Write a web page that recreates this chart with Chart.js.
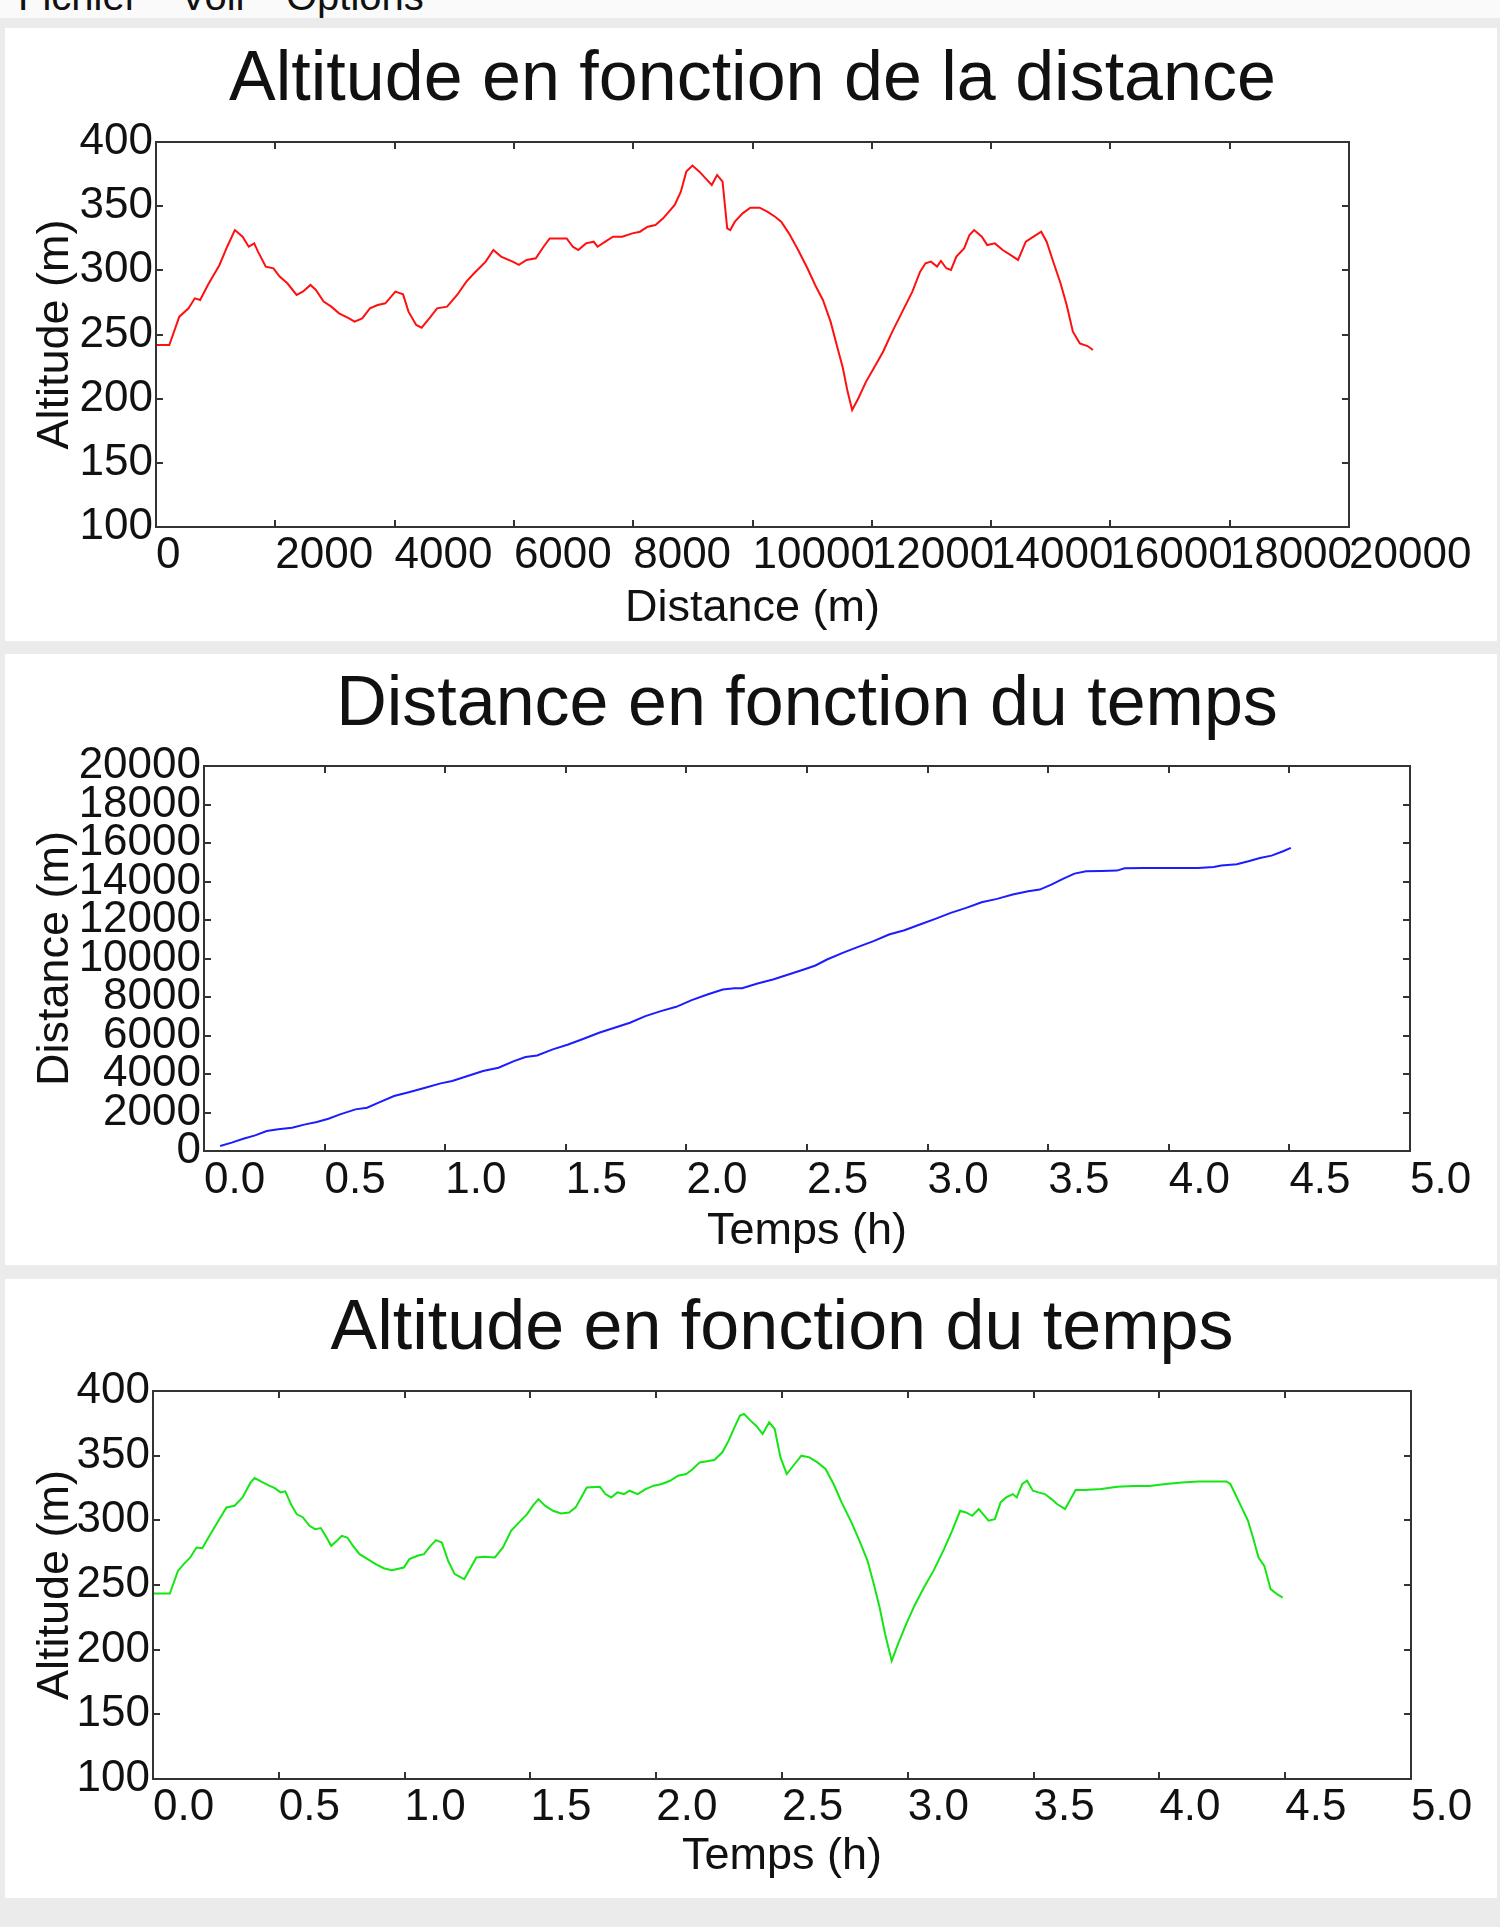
<!DOCTYPE html>
<html>
<head>
<meta charset="utf-8">
<script src="https://cdn.jsdelivr.net/npm/chart.js@4.4.1/dist/chart.umd.min.js"></script>
<style>
  html, body { margin: 0; padding: 0; }
  body {
    width: 1500px; height: 1927px; position: relative; overflow: hidden;
    background: #ebebeb; font-family: "Liberation Sans", Arial, sans-serif;
  }
  .menubar { position: absolute; left: 0; top: 0; width: 1500px; height: 18px; background: #fafafa; overflow: hidden; }
  .menubar span { position: absolute; top: -24px; font-size: 40px; line-height: 40px; color: #111; }
  .panel { position: absolute; left: 5px; width: 1492px; background: #fff; }
  .panel canvas { display: block; }
</style>
</head>
<body>
<div class="menubar">
  <span style="left:18px">Fichier</span>
  <span style="left:180px">Voir</span>
  <span style="left:286px">Options</span>
</div>
<div class="panel" style="top:28px;height:613px"><canvas id="chart1" width="1492" height="613"></canvas></div>
<div class="panel" style="top:654px;height:611px"><canvas id="chart2" width="1492" height="611"></canvas></div>
<div class="panel" style="top:1279px;height:619px"><canvas id="chart3" width="1492" height="619"></canvas></div>

<script>
// altitude vs distance (red)
const profileDistance = [0, 223, 391, 546, 650, 740, 870, 1064, 1193, 1322, 1452, 1555, 1646, 1710, 1840, 1969, 2073, 2202, 2357, 2461, 2590, 2681, 2810, 2939, 3069, 3237, 3328, 3457, 3586, 3716, 3845, 4013, 4142, 4233, 4362, 4453, 4582, 4712, 4880, 5048, 5203, 5333, 5527, 5656, 5785, 5979, 6083, 6212, 6367, 6497, 6600, 6885, 6988, 7079, 7208, 7338, 7402, 7532, 7661, 7816, 7985, 8114, 8243, 8373, 8502, 8696, 8799, 8890, 8993, 9110, 9213, 9317, 9407, 9498, 9576, 9627, 9705, 9834, 9964, 10119, 10248, 10378, 10481, 10611, 10765, 10921, 11050, 11180, 11309, 11412, 11516, 11594, 11671, 11775, 11904, 12033, 12189, 12344, 12512, 12680, 12810, 12900, 12991, 13094, 13159, 13249, 13327, 13418, 13547, 13637, 13715, 13845, 13935, 14064, 14194, 14323, 14452, 14582, 14711, 14841, 14931, 15060, 15164, 15267, 15371, 15487, 15617, 15708]
const profileAltitude = [241.8, 241.8, 263.9, 270.4, 278.2, 276.9, 288.6, 304.2, 318.4, 331.4, 326.2, 318.4, 321.0, 314.6, 302.9, 301.6, 295.1, 289.9, 280.8, 283.4, 288.6, 284.7, 275.6, 271.7, 266.5, 262.6, 260.0, 262.6, 270.4, 273.0, 274.3, 283.4, 281.3, 267.8, 257.4, 255.3, 262.6, 270.4, 271.7, 280.8, 291.2, 297.7, 306.8, 315.8, 310.7, 306.8, 304.2, 308.1, 309.4, 318.4, 324.9, 324.9, 318.4, 315.8, 321.0, 322.3, 318.4, 322.3, 326.2, 326.2, 328.8, 330.1, 334.0, 335.3, 340.5, 350.9, 361.3, 376.9, 381.6, 376.9, 371.7, 366.5, 374.3, 369.1, 332.7, 331.4, 337.9, 344.4, 348.8, 348.8, 345.7, 341.8, 337.9, 328.8, 315.8, 301.6, 288.6, 276.9, 260.0, 241.8, 223.7, 205.5, 191.2, 200.3, 213.3, 223.7, 236.6, 252.2, 267.8, 283.4, 299.0, 305.5, 306.8, 302.9, 307.3, 301.6, 300.3, 310.7, 317.1, 327.5, 331.4, 326.2, 319.7, 321.0, 315.8, 312.0, 308.1, 322.3, 326.2, 330.1, 322.3, 304.2, 289.9, 273.0, 252.2, 243.1, 241.0, 237.9]

// distance vs time (blue)
const trackHours = [0.067, 0.115, 0.163, 0.212, 0.260, 0.308, 0.365, 0.420, 0.468, 0.516, 0.564, 0.628, 0.676, 0.724, 0.788, 0.853, 0.917, 0.981, 1.029, 1.093, 1.157, 1.221, 1.285, 1.333, 1.381, 1.446, 1.510, 1.574, 1.638, 1.702, 1.766, 1.830, 1.894, 1.958, 2.022, 2.087, 2.151, 2.199, 2.231, 2.295, 2.359, 2.423, 2.487, 2.535, 2.583, 2.648, 2.712, 2.776, 2.840, 2.904, 2.968, 3.032, 3.096, 3.160, 3.224, 3.288, 3.353, 3.417, 3.465, 3.513, 3.561, 3.609, 3.657, 3.721, 3.785, 3.817, 3.897, 4.026, 4.122, 4.186, 4.218, 4.282, 4.330, 4.378, 4.426, 4.474, 4.506]
const trackDistance = [260, 433, 640, 813, 1038, 1125, 1211, 1384, 1505, 1678, 1903, 2163, 2249, 2509, 2855, 3062, 3287, 3512, 3633, 3893, 4152, 4325, 4671, 4879, 4965, 5277, 5536, 5830, 6142, 6401, 6661, 7007, 7266, 7491, 7837, 8131, 8391, 8460, 8460, 8702, 8910, 9169, 9429, 9636, 9948, 10294, 10605, 10899, 11245, 11470, 11764, 12058, 12370, 12629, 12923, 13096, 13321, 13494, 13581, 13840, 14134, 14411, 14532, 14549, 14567, 14688, 14705, 14705, 14705, 14757, 14826, 14895, 15051, 15224, 15345, 15570, 15743]

// altitude vs time (green)
const altHours = [0, 0.067, 0.099, 0.122, 0.148, 0.173, 0.196, 0.228, 0.260, 0.292, 0.324, 0.356, 0.388, 0.404, 0.436, 0.462, 0.484, 0.507, 0.526, 0.548, 0.571, 0.596, 0.622, 0.644, 0.667, 0.686, 0.708, 0.731, 0.750, 0.772, 0.795, 0.821, 0.853, 0.885, 0.917, 0.949, 0.997, 1.019, 1.051, 1.077, 1.103, 1.125, 1.148, 1.173, 1.199, 1.237, 1.263, 1.285, 1.317, 1.359, 1.391, 1.423, 1.455, 1.487, 1.510, 1.532, 1.558, 1.590, 1.622, 1.654, 1.680, 1.702, 1.724, 1.776, 1.798, 1.821, 1.846, 1.872, 1.894, 1.926, 1.958, 1.990, 2.022, 2.055, 2.087, 2.119, 2.141, 2.173, 2.231, 2.263, 2.288, 2.311, 2.333, 2.349, 2.375, 2.397, 2.423, 2.449, 2.471, 2.494, 2.519, 2.545, 2.577, 2.609, 2.641, 2.673, 2.705, 2.737, 2.776, 2.808, 2.840, 2.865, 2.888, 2.910, 2.936, 2.961, 2.993, 3.026, 3.064, 3.102, 3.144, 3.176, 3.208, 3.231, 3.256, 3.282, 3.305, 3.321, 3.346, 3.369, 3.391, 3.417, 3.433, 3.455, 3.474, 3.497, 3.519, 3.545, 3.571, 3.593, 3.625, 3.647, 3.667, 3.705, 3.769, 3.833, 3.897, 3.961, 4.026, 4.090, 4.154, 4.224, 4.266, 4.282, 4.308, 4.330, 4.352, 4.372, 4.394, 4.417, 4.442, 4.468, 4.490]
const altValues = [243.4, 243.4, 260.9, 266.1, 271.3, 279.0, 278.5, 289.3, 299.6, 310.0, 311.3, 317.7, 329.3, 332.7, 329.3, 326.8, 324.9, 321.6, 322.4, 312.6, 304.8, 302.2, 295.8, 293.2, 294.0, 288.0, 280.3, 284.2, 288.0, 286.7, 280.3, 273.8, 270.0, 266.1, 263.0, 261.5, 263.5, 270.0, 272.6, 273.8, 280.3, 284.7, 282.9, 268.7, 258.4, 254.5, 263.5, 271.3, 271.8, 271.3, 279.0, 291.9, 298.4, 304.8, 311.3, 316.4, 311.3, 307.4, 305.3, 306.1, 310.0, 317.7, 325.4, 326.0, 320.3, 317.7, 321.6, 320.3, 322.9, 320.3, 324.2, 326.8, 328.1, 330.6, 334.5, 335.8, 338.9, 344.8, 346.6, 352.6, 361.6, 371.9, 381.0, 382.3, 377.1, 373.2, 366.8, 375.8, 370.6, 348.7, 335.8, 342.2, 350.0, 348.7, 344.8, 339.7, 328.1, 313.9, 298.4, 284.2, 268.7, 250.6, 232.6, 211.9, 191.3, 204.2, 219.6, 233.8, 248.0, 260.9, 277.7, 291.9, 307.4, 306.1, 303.5, 308.7, 303.5, 299.7, 300.9, 313.9, 317.7, 320.3, 317.7, 328.1, 330.6, 322.9, 321.6, 320.3, 316.4, 312.6, 308.7, 316.4, 323.4, 323.4, 324.2, 326.0, 326.5, 326.5, 328.1, 329.3, 330.1, 330.1, 330.1, 328.1, 317.7, 308.7, 299.7, 286.7, 271.3, 264.8, 246.8, 242.9, 240.3]

// axis ticks
const distanceTicks = [0, 2000, 4000, 6000, 8000, 10000, 12000, 14000, 16000, 18000, 20000]
const altitudeTicks = [100, 150, 200, 250, 300, 350, 400]
const hourTicks = [0, 0.5, 1, 1.5, 2, 2.5, 3, 3.5, 4, 4.5, 5]
const hourTickLabels = ['0.0', '0.5', '1.0', '1.5', '2.0', '2.5', '3.0', '3.5', '4.0', '4.5', '5.0']

const FONT = '"Liberation Sans", Arial, sans-serif'
const INK = '#111'

// frame + inward tick marks on all four sides
const framePlugin = {
    id: 'frame',
    afterDatasetsDraw(chart) {
        const { ctx, chartArea: a, scales } = chart
        const len = 7
        ctx.save()
        ctx.strokeStyle = '#333'
        ctx.lineWidth = 2
        ctx.beginPath()
        scales.x.ticks.forEach((t) => {
            const px = Math.round(scales.x.getPixelForValue(t.value))
            ctx.moveTo(px, a.bottom); ctx.lineTo(px, a.bottom - len)
            ctx.moveTo(px, a.top); ctx.lineTo(px, a.top + len)
        })
        scales.y.ticks.forEach((t) => {
            const py = Math.round(scales.y.getPixelForValue(t.value))
            ctx.moveTo(a.left, py); ctx.lineTo(a.left + len, py)
            ctx.moveTo(a.right, py); ctx.lineTo(a.right - len, py)
        })
        ctx.stroke()
        ctx.strokeRect(a.left, a.top, a.right - a.left, a.bottom - a.top)
        ctx.restore()
    }
}

function points(xs, ys) {
    return xs.map((x, i) => ({ x: x, y: ys[i] }))
}

function makeChart(id, opts) {
    return new Chart(document.getElementById(id), {
        type: 'line',
        data: {
            datasets: [{
                data: points(opts.xs, opts.ys),
                borderColor: opts.color,
                borderWidth: 2,
                pointRadius: 0,
                tension: 0,
                fill: false
            }]
        },
        options: {
            responsive: false,
            animation: false,
            devicePixelRatio: 1,
            layout: { padding: { left: 0, right: opts.padRight, top: 0, bottom: 0 } },
            plugins: {
                legend: { display: false },
                tooltip: { enabled: false },
                title: {
                    display: true,
                    text: opts.title,
                    fullSize: false,
                    color: INK,
                    font: { family: FONT, size: 70, weight: 'normal', lineHeight: 1.2 },
                    padding: { top: opts.titleTop, bottom: opts.titleBottom }
                }
            },
            scales: {
                x: {
                    type: 'linear',
                    min: opts.xTicks[0],
                    max: opts.xTicks[opts.xTicks.length - 1],
                    grid: { display: false, drawTicks: false },
                    border: { display: false },
                    afterBuildTicks: (s) => { s.ticks = opts.xTicks.map((v) => ({ value: v })) },
                    afterFit: (s) => { s.height = opts.xHeight; s.paddingLeft = 0; s.paddingRight = 0 },
                    ticks: {
                        align: 'start',
                        autoSkip: false,
                        minRotation: 0,
                        maxRotation: 0,
                        padding: opts.xTickPad,
                        color: INK,
                        font: { family: FONT, size: 44, lineHeight: 1.2 },
                        callback: opts.xLabel
                    },
                    title: {
                        display: true,
                        text: opts.xTitle,
                        color: INK,
                        font: { family: FONT, size: 45, lineHeight: 1.2 },
                        padding: { top: 0, bottom: opts.xTitlePad }
                    }
                },
                y: {
                    type: 'linear',
                    min: opts.yTicks[0],
                    max: opts.yTicks[opts.yTicks.length - 1],
                    grid: { display: false, drawTicks: false },
                    border: { display: false },
                    afterBuildTicks: (s) => { s.ticks = opts.yTicks.map((v) => ({ value: v })) },
                    afterFit: (s) => { s.width = opts.yWidth; s.paddingTop = 0; s.paddingBottom = 0 },
                    ticks: {
                        autoSkip: false,
                        padding: 3,
                        color: INK,
                        font: { family: FONT, size: 44, lineHeight: 1.2 },
                        callback: (v) => String(v)
                    },
                    title: {
                        display: true,
                        text: opts.yTitle,
                        color: INK,
                        font: { family: FONT, size: 45, lineHeight: 1.2 },
                        padding: { top: 24, bottom: 0 }
                    }
                }
            }
        },
        plugins: [framePlugin]
    })
}

makeChart('chart1', {
    title: 'Altitude en fonction de la distance',
    xs: profileDistance, ys: profileAltitude, color: '#ff1010',
    xTicks: distanceTicks, yTicks: altitudeTicks,
    xLabel: (v) => String(v),
    xTitle: 'Distance (m)', yTitle: 'Altitude (m)',
    padRight: 148, yWidth: 151, xHeight: 114,
    titleTop: 11, titleBottom: 19, xTickPad: 2, xTitlePad: 5
})

makeChart('chart2', {
    title: 'Distance en fonction du temps',
    xs: trackHours, ys: trackDistance, color: '#1c1cff',
    xTicks: hourTicks, yTicks: distanceTicks,
    xLabel: (v, i) => hourTickLabels[i],
    xTitle: 'Temps (h)', yTitle: 'Distance (m)',
    padRight: 87, yWidth: 199, xHeight: 114,
    titleTop: 10, titleBottom: 18, xTickPad: 3, xTitlePad: 6
})

makeChart('chart3', {
    title: 'Altitude en fonction du temps',
    xs: altHours, ys: altValues, color: '#14e614',
    xTicks: hourTicks, yTicks: altitudeTicks,
    xLabel: (v, i) => hourTickLabels[i],
    xTitle: 'Temps (h)', yTitle: 'Altitude (m)',
    padRight: 86, yWidth: 148, xHeight: 119,
    titleTop: 9, titleBottom: 19, xTickPad: 2, xTitlePad: 14
})
</script>
</body>
</html>
